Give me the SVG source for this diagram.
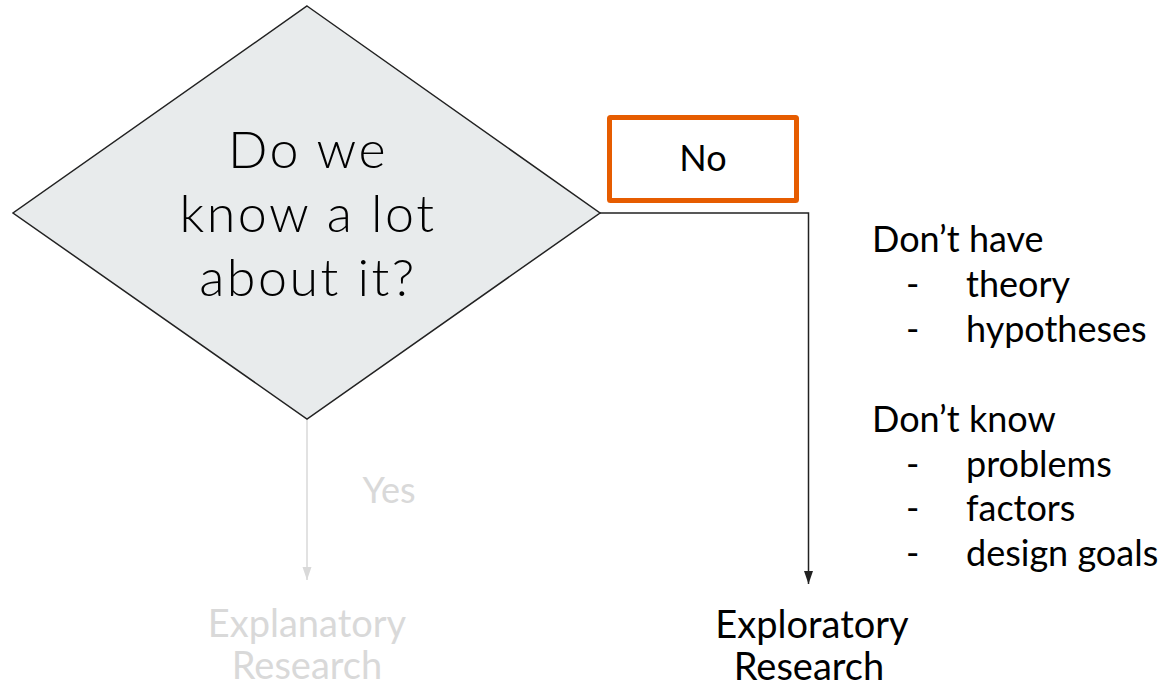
<svg xmlns="http://www.w3.org/2000/svg" width="1175" height="687" viewBox="0 0 1175 687">
<style>
.lato{font-family:Lato,"Open Sans","Liberation Sans",sans-serif;}
.q{font-family:Lato,"Liberation Sans",sans-serif;font-weight:300;font-size:52px;letter-spacing:2.5px;fill:#000;text-anchor:middle;}
.dark{fill:#000;}
.pale{fill:#d9d9d9;}
</style>
<defs>
<marker id="ad" markerWidth="13" markerHeight="10" refX="13" refY="5" orient="auto" markerUnits="userSpaceOnUse" viewBox="0 0 13 10">
<path d="M0,0.5 L13,5 L0,9.5 Z" fill="#222"/>
</marker>
<marker id="ap" markerWidth="13" markerHeight="10" refX="13" refY="5" orient="auto" markerUnits="userSpaceOnUse" viewBox="0 0 13 10">
<path d="M0,0.5 L13,5 L0,9.5 Z" fill="#d9d9d9"/>
</marker>
</defs>
<rect width="1175" height="687" fill="#fff"/>
<g id="connectors">
<path d="M307,420 V580" fill="none" stroke="#d9d9d9" stroke-width="1.5" marker-end="url(#ap)"/>
<path d="M600,213 H808.5 V584" fill="none" stroke="#222" stroke-width="1.5" marker-end="url(#ad)"/>
</g>
<g id="decision">
<polygon points="307,6 600,213 307,419 13,213" fill="#e8ebec" stroke="#222" stroke-width="1.5"/>
<text class="q" x="308" y="168">Do we</text>
<text class="q" x="308" y="232">know a lot</text>
<text class="q" x="308" y="296">about it?</text>
</g>
<g id="no-label">
<rect x="609.5" y="117.5" width="187" height="83" fill="#fff" stroke="#e65c00" stroke-width="5" rx="1"/>
<text class="lato dark" x="703" y="171" font-size="36" text-anchor="middle">No</text>
</g>
<g id="yes-label">
<text class="lato pale" x="389" y="503" font-size="36" text-anchor="middle">Yes</text>
</g>
<g id="explanatory">
<text class="lato pale" x="307" y="637" font-size="38" text-anchor="middle">Explanatory</text>
<text class="lato pale" x="307" y="679" font-size="38" text-anchor="middle">Research</text>
</g>
<g id="exploratory">
<text class="lato dark" x="812" y="638" font-size="38" text-anchor="middle">Exploratory</text>
<text class="lato dark" x="809" y="680" font-size="38" text-anchor="middle">Research</text>
</g>
<g id="notes" class="lato dark" font-size="36">
<text x="872" y="252">Don’t have</text>
<text x="906" y="297">-</text><text x="966" y="297">theory</text>
<text x="906" y="342">-</text><text x="966" y="342">hypotheses</text>
<text x="872" y="432">Don’t know</text>
<text x="906" y="477">-</text><text x="966" y="477">problems</text>
<text x="906" y="521">-</text><text x="966" y="521">factors</text>
<text x="906" y="566">-</text><text x="966" y="566">design goals</text>
</g>
</svg>
